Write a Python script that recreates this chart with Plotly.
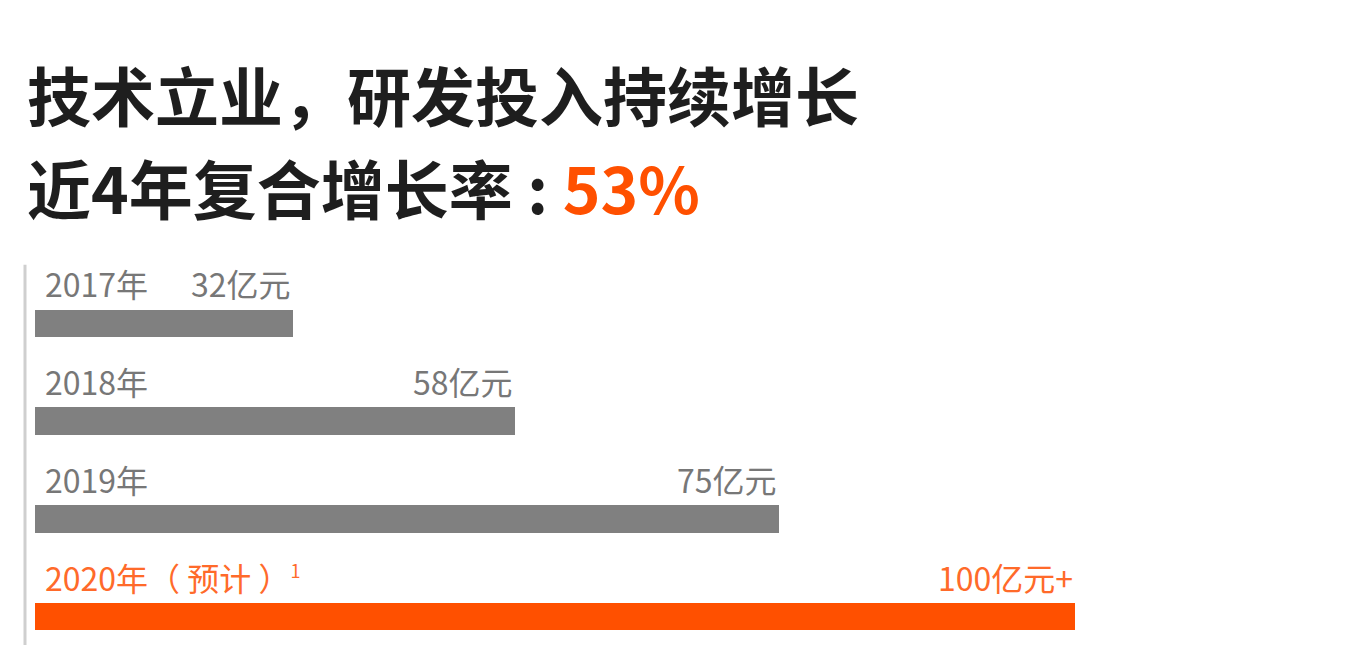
import plotly.graph_objects as go

# data
years = ["2017年", "2018年", "2019年",
         "2020年（ 预计 ）<sup><span style='font-size:18px'>1</span></sup>"]
value_labels = ["32亿元", "58亿元", "75亿元", "100亿元+"]
# drawn bar lengths (the original is not drawn to scale, so these are read from the bar ends)
bar_lengths = [24.8, 46.2, 71.5, 100]
bar_colors = ["#808080", "#808080", "#808080", "#FF5000"]
text_colors = ["#777777", "#777777", "#777777", "#FF6A2A"]

title_line1 = "技术立业，研发投入持续增长"
title_line2 = "近4年复合增长率 : <span style='color:#FF5000'>53%</span>"

W, H = 1352, 658
pos = list(range(len(years)))
# page body adds an 8px offset, so margins are set 8px smaller
L, T, PW = 27, 247, 1040
PH = 390.8

fig = go.Figure()
fig.add_trace(go.Bar(
    x=bar_lengths, y=pos, orientation="h",
    marker=dict(color=bar_colors, line=dict(width=0)),
    width=0.28, hoverinfo="skip", showlegend=False,
))

font = "Noto Sans CJK SC, Noto Sans, sans-serif"
for i, (yr, val) in enumerate(zip(years, value_labels)):
    fig.add_annotation(x=0, y=i - 0.41, xref="x", yref="y", text=yr,
                       xanchor="left", yanchor="middle", xshift=8, showarrow=False,
                       font=dict(family=font, size=32, color=text_colors[i]))
    fig.add_annotation(x=bar_lengths[i], y=i - 0.41, xref="x", yref="y", text=val,
                       xanchor="right", yanchor="middle", showarrow=False,
                       font=dict(family=font, size=32, color=text_colors[i]))


def paper_y(px):
    # pixel row (in reference picture) -> paper y
    return (T + PH - (px - 8)) / PH


# title lines
fig.add_annotation(x=-10 / PW, y=paper_y(93), xref="paper", yref="paper", text=title_line1,
                   xanchor="left", yanchor="middle", showarrow=False,
                   font=dict(family=font, size=64, color="#1E1E1E", weight="bold"))
fig.add_annotation(x=-10 / PW, y=paper_y(186), xref="paper", yref="paper", text=title_line2,
                   xanchor="left", yanchor="middle", showarrow=False,
                   font=dict(family=font, size=64, color="#1E1E1E", weight="bold"))

# thin vertical rule on the left
fig.add_shape(type="line", xref="paper", yref="y", x0=-10 / PW, x1=-10 / PW,
              y0=-0.6, y1=3.29, line=dict(color="#CFCFCF", width=3))

fig.update_layout(
    width=W, height=H,
    margin=dict(l=L, r=W - L - PW, t=T, b=H - T - PH),
    paper_bgcolor="white", plot_bgcolor="white",
    xaxis=dict(range=[0, 100], visible=False, fixedrange=True),
    yaxis=dict(range=[3.3, -0.7], visible=False, fixedrange=True),
    bargap=0,
)

fig.write_html("out.html")
